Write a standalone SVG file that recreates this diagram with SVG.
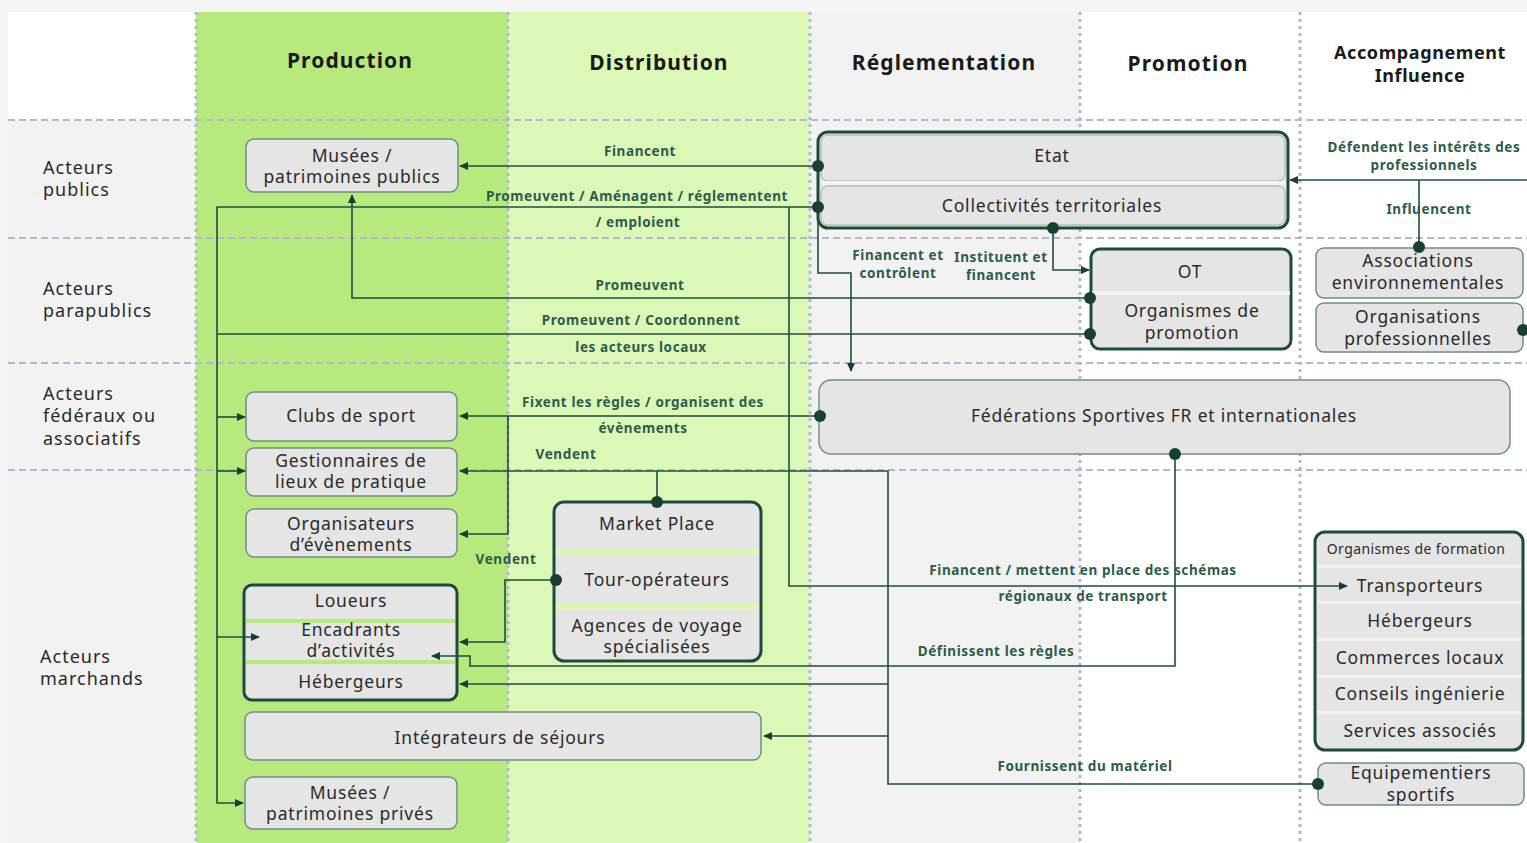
<svg xmlns="http://www.w3.org/2000/svg" width="1527" height="843" viewBox="0 0 1527 843">
<style>
.hdr{font-family:"Noto Sans","Liberation Sans",sans-serif;font-weight:700;font-size:21px;letter-spacing:1.1px;fill:#1a1a1a;text-anchor:middle}
.hdr2{font-family:"Noto Sans","Liberation Sans",sans-serif;font-weight:700;font-size:18px;letter-spacing:0.6px;fill:#1a1a1a;text-anchor:middle}
.row{font-family:"Noto Sans","Liberation Sans",sans-serif;font-size:18px;letter-spacing:1px;fill:#2a2a2a}
.nt{font-family:"Noto Sans","Liberation Sans",sans-serif;font-size:17.5px;letter-spacing:0.8px;fill:#2a2a2a;text-anchor:middle}
.ns{font-family:"Noto Sans","Liberation Sans",sans-serif;font-size:14px;letter-spacing:0.4px;fill:#2a2a2a;text-anchor:middle}
.lb{font-family:"Noto Sans","Liberation Sans",sans-serif;font-weight:700;font-size:13.5px;letter-spacing:0.6px;fill:#2c5c4c;text-anchor:middle}
.box{fill:#e5e5e5;stroke:#6f8f82;stroke-width:1.5}
.grp{fill:#e5e5e5;stroke:#1e4a3d;stroke-width:3}
.sub{fill:#e5e5e5;stroke:#9ab0a6;stroke-width:1}
.vl{stroke:#b3b7d1;stroke-width:3;stroke-dasharray:3 4;fill:none}
.hl{stroke:#b3b7d1;stroke-width:2;stroke-dasharray:7 4;fill:none}
.c{fill:none;stroke:#1f4d40;stroke-width:1.6}
.d{fill:#173f33}
</style>
<defs>
<marker id="ar" markerWidth="9" markerHeight="8" refX="8" refY="4" orient="auto" markerUnits="userSpaceOnUse">
<path d="M0,0 L9,4 L0,8 z" fill="#173f33"/>
</marker>
</defs>

<g id="background">
<rect x="0" y="0" width="1527" height="843" fill="#f5f5f5"/>
<rect x="8" y="12" width="188" height="108" fill="#ffffff"/>
<rect x="8" y="120" width="188" height="723" fill="#f2f2f2"/>
<rect x="196" y="12" width="312" height="831" fill="#b8e97f"/>
<rect x="508" y="12" width="302" height="831" fill="#dcf8b6"/>
<rect x="810" y="12" width="270" height="831" fill="#f2f2f2"/>
<rect x="1080" y="12" width="447" height="831" fill="#ffffff"/>
<path class="hl" d="M8,120 H1527 M8,238 H1527 M8,363 H1527 M8,470 H1527"/>
<path class="vl" d="M196,12 V843 M508,12 V843 M810,12 V843 M1080,12 V843 M1300,12 V843"/>
</g>

<g id="headers">
<text class="hdr" x="350" y="68">Production</text>
<text class="hdr" x="659" y="70">Distribution</text>
<text class="hdr" x="944" y="70">Réglementation</text>
<text class="hdr" x="1188" y="71">Promotion</text>
<text class="hdr2" x="1420" y="59">Accompagnement</text>
<text class="hdr2" x="1420" y="82">Influence</text>
</g>

<g id="row-labels">
<text class="row" x="43" y="174">Acteurs</text>
<text class="row" x="43" y="196">publics</text>
<text class="row" x="43" y="295">Acteurs</text>
<text class="row" x="43" y="317">parapublics</text>
<text class="row" x="43" y="400">Acteurs</text>
<text class="row" x="43" y="422">fédéraux ou</text>
<text class="row" x="43" y="445">associatifs</text>
<text class="row" x="40" y="663">Acteurs</text>
<text class="row" x="40" y="685">marchands</text>
</g>

<g id="musees-publics">
<rect class="box" x="246" y="139" width="212" height="53" rx="8"/>
<text class="nt" x="352" y="162">Musées /</text>
<text class="nt" x="352" y="183">patrimoines publics</text>
</g>

<g id="etat-collectivites">
<rect class="grp" x="818" y="132" width="470" height="96" rx="10"/>
<rect class="sub" x="821" y="135" width="464" height="46" rx="7"/>
<rect x="821" y="181" width="464" height="4" fill="#f4f4f4"/>
<rect class="sub" x="821" y="186" width="464" height="39" rx="7"/>
<text class="nt" x="1052" y="162">Etat</text>
<text class="nt" x="1052" y="212">Collectivités territoriales</text>
</g>

<g id="ot-organismes">
<rect class="grp" x="1091" y="249" width="200" height="100" rx="9"/>
<rect x="1092" y="291" width="198" height="4" fill="#f4f4f4"/>
<text class="nt" x="1190" y="278">OT</text>
<text class="nt" x="1192" y="317">Organismes de</text>
<text class="nt" x="1192" y="339">promotion</text>
</g>

<g id="associations-env">
<rect class="box" x="1316" y="248" width="207" height="50" rx="8"/>
<text class="nt" x="1418" y="267">Associations</text>
<text class="nt" x="1418" y="289">environnementales</text>
</g>

<g id="organisations-pro">
<rect class="box" x="1316" y="303" width="207" height="49" rx="8"/>
<text class="nt" x="1418" y="323">Organisations</text>
<text class="nt" x="1418" y="345">professionnelles</text>
</g>

<g id="federations">
<rect class="box" x="819" y="380" width="691" height="74" rx="12"/>
<text class="nt" x="1164" y="422">Fédérations Sportives FR et internationales</text>
</g>

<g id="clubs">
<rect class="box" x="246" y="392" width="211" height="49" rx="8"/>
<text class="nt" x="351" y="422">Clubs de sport</text>
</g>

<g id="gestionnaires">
<rect class="box" x="246" y="448" width="211" height="48" rx="8"/>
<text class="nt" x="351" y="467">Gestionnaires de</text>
<text class="nt" x="351" y="488">lieux de pratique</text>
</g>

<g id="organisateurs">
<rect class="box" x="246" y="509" width="211" height="48" rx="8"/>
<text class="nt" x="351" y="530">Organisateurs</text>
<text class="nt" x="351" y="551">d’évènements</text>
</g>

<g id="loueurs-encadrants-hebergeurs">
<rect class="grp" x="244" y="585" width="213" height="115" rx="8"/>
<rect x="246" y="619" width="209" height="4" fill="#b8e97f"/>
<rect x="246" y="660" width="209" height="4" fill="#b8e97f"/>
<text class="nt" x="351" y="607">Loueurs</text>
<text class="nt" x="351" y="636">Encadrants</text>
<text class="nt" x="351" y="657">d’activités</text>
<text class="nt" x="351" y="688">Hébergeurs</text>
</g>

<g id="integrateurs">
<rect class="box" x="245" y="712" width="516" height="48" rx="8"/>
<text class="nt" x="500" y="744">Intégrateurs de séjours</text>
</g>

<g id="musees-prives">
<rect class="box" x="245" y="777" width="212" height="52" rx="8"/>
<text class="nt" x="350" y="799">Musées /</text>
<text class="nt" x="350" y="820">patrimoines privés</text>
</g>

<g id="marketplace-to-agences">
<rect class="grp" x="554" y="502" width="207" height="159" rx="10"/>
<rect x="556" y="549" width="203" height="6" fill="#dcf8b6"/>
<rect x="556" y="604" width="203" height="6" fill="#dcf8b6"/>
<text class="nt" x="657" y="530">Market Place</text>
<text class="nt" x="657" y="586">Tour-opérateurs</text>
<text class="nt" x="657" y="632">Agences de voyage</text>
<text class="nt" x="657" y="653">spécialisées</text>
</g>

<g id="formation-services">
<rect class="grp" x="1315" y="532" width="208" height="218" rx="10"/>
<rect x="1317" y="565" width="204" height="3" fill="#f6f1ea"/>
<rect x="1317" y="601" width="204" height="3" fill="#f6f1ea"/>
<rect x="1317" y="638" width="204" height="3" fill="#f6f1ea"/>
<rect x="1317" y="675" width="204" height="3" fill="#f6f1ea"/>
<rect x="1317" y="711" width="204" height="3" fill="#f6f1ea"/>
<text class="ns" x="1416" y="554">Organismes de formation</text>
<text class="nt" x="1420" y="592">Transporteurs</text>
<text class="nt" x="1420" y="627">Hébergeurs</text>
<text class="nt" x="1420" y="664">Commerces locaux</text>
<text class="nt" x="1420" y="700">Conseils ingénierie</text>
<text class="nt" x="1420" y="737">Services associés</text>
</g>

<g id="equipementiers">
<rect class="box" x="1318" y="763" width="206" height="42" rx="8"/>
<text class="nt" x="1421" y="779">Equipementiers</text>
<text class="nt" x="1421" y="801">sportifs</text>
</g>

<g id="connectors">
<path class="c" d="M818,166 H460" marker-end="url(#ar)"/>
<path class="c" d="M818,207 H217 V803 H243" marker-end="url(#ar)"/>
<path class="c" d="M217,417 H245" marker-end="url(#ar)"/>
<path class="c" d="M217,471 H245" marker-end="url(#ar)"/>
<path class="c" d="M217,637 H259" marker-end="url(#ar)"/>
<path class="c" d="M1090,298 H352 V195" marker-end="url(#ar)"/>
<path class="c" d="M1090,334 H217"/>
<path class="c" d="M789,207 V586 H1347" marker-end="url(#ar)"/>
<path class="c" d="M818,207 V273 H851 V371" marker-end="url(#ar)"/>
<path class="c" d="M1053,228 V270 H1089" marker-end="url(#ar)"/>
<path class="c" d="M1527,180 H1290" marker-end="url(#ar)"/>
<path class="c" d="M1419,180 V247"/>
<path class="c" d="M820,416 H460" marker-end="url(#ar)"/>
<path class="c" d="M508,416 V534 H460" marker-end="url(#ar)"/>
<path class="c" d="M657,502 V471 H460" marker-end="url(#ar)"/>
<path class="c" d="M657,471 H888 V784 H1318"/>
<path class="c" d="M888,684 H460" marker-end="url(#ar)"/>
<path class="c" d="M888,736 H764" marker-end="url(#ar)"/>
<path class="c" d="M556,580 H505 V642 H460" marker-end="url(#ar)"/>
<path class="c" d="M1175,454 V666 H470 V656 H432" marker-end="url(#ar)"/>
</g>

<g id="connector-labels">
<text class="lb" x="640" y="156">Financent</text>
<text class="lb" x="637" y="201">Promeuvent / Aménagent / réglementent</text>
<text class="lb" x="638" y="227">/ emploient</text>
<text class="lb" x="640" y="290">Promeuvent</text>
<text class="lb" x="641" y="325">Promeuvent / Coordonnent</text>
<text class="lb" x="641" y="352">les acteurs locaux</text>
<text class="lb" x="898" y="260">Financent et</text>
<text class="lb" x="898" y="278">contrôlent</text>
<text class="lb" x="1001" y="262">Instituent et</text>
<text class="lb" x="1001" y="280">financent</text>
<text class="lb" x="1424" y="152">Défendent les intérêts des</text>
<text class="lb" x="1424" y="170">professionnels</text>
<text class="lb" x="1429" y="214">Influencent</text>
<text class="lb" x="643" y="407">Fixent les règles / organisent des</text>
<text class="lb" x="643" y="433">évènements</text>
<text class="lb" x="566" y="459">Vendent</text>
<text class="lb" x="506" y="564">Vendent</text>
<text class="lb" x="1083" y="575">Financent / mettent en place des schémas</text>
<text class="lb" x="1083" y="601">régionaux de transport</text>
<text class="lb" x="996" y="656">Définissent les règles</text>
<text class="lb" x="1085" y="771">Fournissent du matériel</text>
</g>

<g id="dots">
<circle class="d" cx="818" cy="166" r="6"/>
<circle class="d" cx="818" cy="207" r="6"/>
<circle class="d" cx="1053" cy="228" r="6"/>
<circle class="d" cx="1090" cy="298" r="6"/>
<circle class="d" cx="1090" cy="334" r="6"/>
<circle class="d" cx="1419" cy="247" r="6"/>
<circle class="d" cx="1523" cy="330" r="6"/>
<circle class="d" cx="820" cy="416" r="6"/>
<circle class="d" cx="1175" cy="454" r="6"/>
<circle class="d" cx="657" cy="502" r="6"/>
<circle class="d" cx="556" cy="580" r="6"/>
<circle class="d" cx="1318" cy="784" r="6"/>
</g>
</svg>
